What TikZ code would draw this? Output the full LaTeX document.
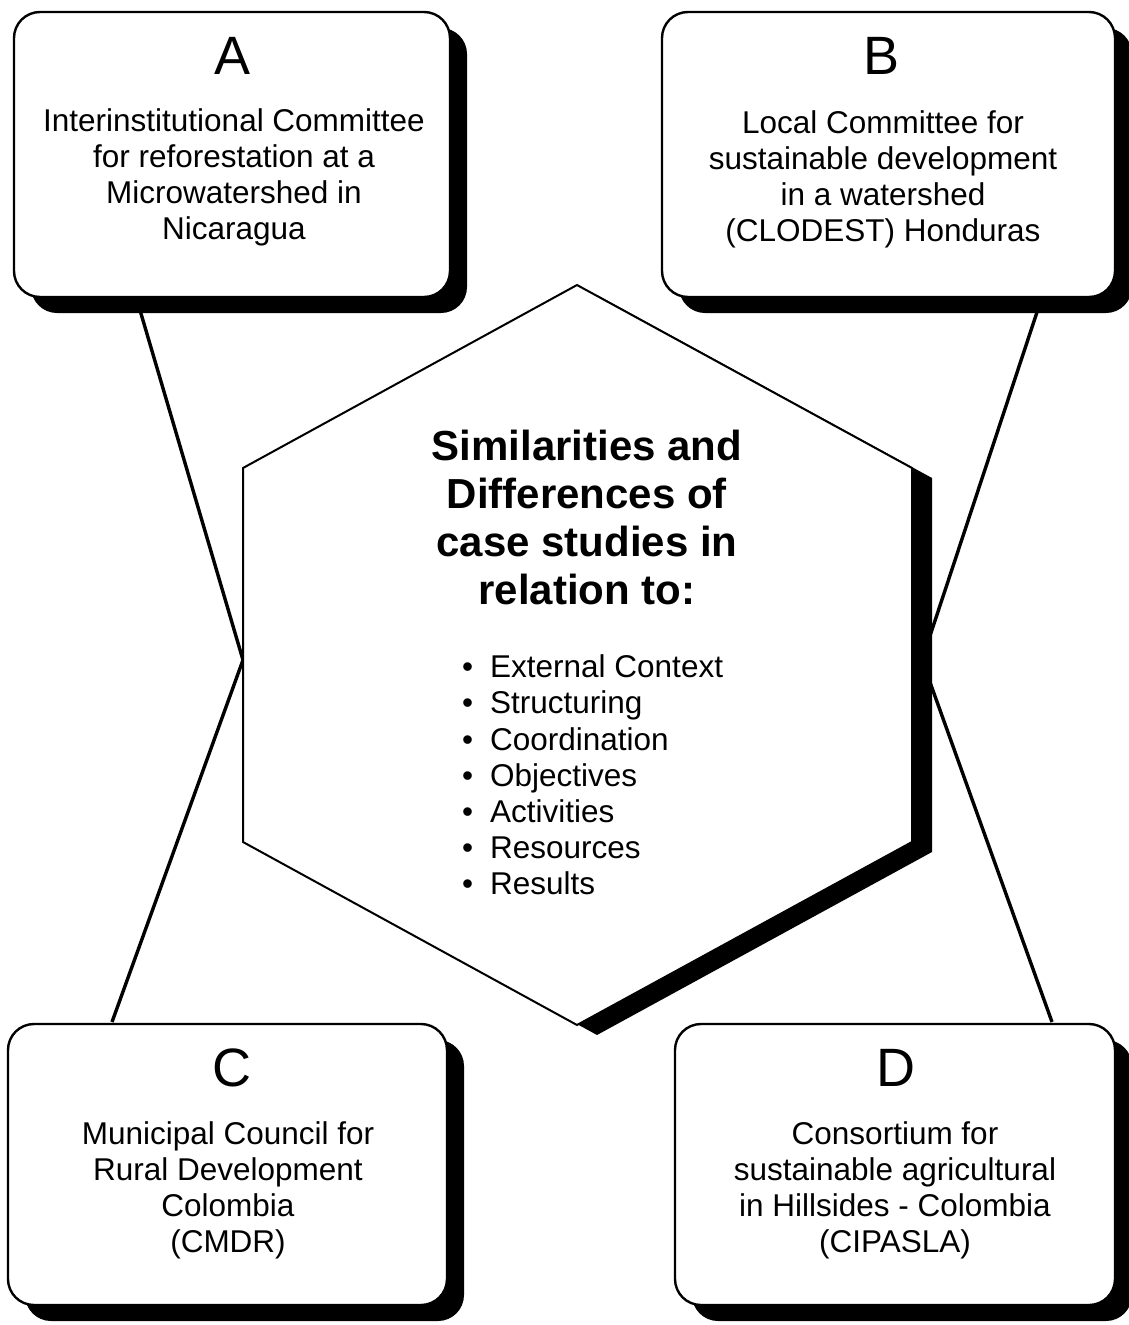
\documentclass[tikz,border=0pt]{standalone}
\usepackage{fontspec}
\setmainfont{Liberation Sans}
\usetikzlibrary{shadows}
\begin{document}
\begin{tikzpicture}[x=1pt,y=-1pt,
  card/.style={draw=black, line width=2.4pt, fill=white, rounded corners=26pt,
    inner sep=0pt, drop shadow={shadow xshift=17pt, shadow yshift=-16pt, fill=black, opacity=1}},
  letter/.style={inner sep=0pt, font=\fontsize{54}{58}\selectfont},
  desc/.style={inner sep=0pt, align=center, font=\fontsize{31.5}{36}\selectfont},
  title/.style={inner sep=0pt, align=center, font=\fontsize{42}{48}\selectfont\bfseries},
  items/.style={inner sep=0pt, align=left, font=\fontsize{31.5}{36.2}\selectfont},
  link/.style={line width=3.4pt, black},
  hexa/.style={draw=black, line width=2pt, fill=white, line join=miter},
  hexshadow/.style={fill=black}
]
\useasboundingbox (0,0) rectangle (1128,1325);

% connector end points
\coordinate (a1) at (137,300);
\coordinate (b1) at (1041,300);
\coordinate (c1) at (112,1022);
\coordinate (d1) at (1052,1022);
\coordinate (hl) at (243,660);
\coordinate (hr) at (922,660);

% connectors (behind everything)
\draw[link] (a1) -- (hl);
\draw[link] (c1) -- (hl);
\draw[link] (b1) -- (hr);
\draw[link] (d1) -- (hr);

% boxes
\node[card, minimum width=436pt, minimum height=285pt] (A) at (232,154.5) {};
\node[card, minimum width=453pt, minimum height=285pt] (B) at (888.5,154.5) {};
\node[card, minimum width=439pt, minimum height=281pt] (C) at (227.5,1164.5) {};
\node[card, minimum width=440pt, minimum height=281pt] (D) at (895,1164.5) {};

\node[letter] (Al) at (233,56) {A};
\node[letter] (Bl) at (881,56) {B};
\node[letter] (Cl) at (232,1068) {C};
\node[letter] (Dl) at (896,1068) {D};

\node[desc] (At) at (234,177) {Interinstitutional Committee\\for reforestation at a\\Microwatershed in\\Nicaragua};
\node[desc] (Bt) at (883,179) {Local Committee for\\sustainable development\\in a watershed\\(CLODEST) Honduras};
\node[desc] (Ct) at (228,1190) {Municipal Council for\\Rural Development\\Colombia\\(CMDR)};
\node[desc] (Dt) at (895,1190) {Consortium for\\sustainable agricultural\\in Hillsides - Colombia\\(CIPASLA)};

% hexagon
\coordinate (h1) at (577,285);
\coordinate (h2) at (912,468);
\coordinate (h3) at (912,842);
\coordinate (h4) at (577,1025);
\coordinate (h5) at (243,842);
\coordinate (h6) at (243,468);
\fill[hexshadow] ([shift={(20,10)}]h1) -- ([shift={(20,10)}]h2) -- ([shift={(20,10)}]h3)
  -- ([shift={(20,10)}]h4) -- ([shift={(20,10)}]h5) -- ([shift={(20,10)}]h6) -- cycle;
\draw[hexa] (h1) -- (h2) -- (h3) -- (h4) -- (h5) -- (h6) -- cycle;

\node[title] (T) at (587,517) {Similarities and\\Differences of\\case studies in\\relation to:};
\node[items, anchor=west] (L) at (462,775) {%
\makebox[28pt][l]{•}External Context\\
\makebox[28pt][l]{•}Structuring\\
\makebox[28pt][l]{•}Coordination\\
\makebox[28pt][l]{•}Objectives\\
\makebox[28pt][l]{•}Activities\\
\makebox[28pt][l]{•}Resources\\
\makebox[28pt][l]{•}Results};
\end{tikzpicture}
\end{document}
